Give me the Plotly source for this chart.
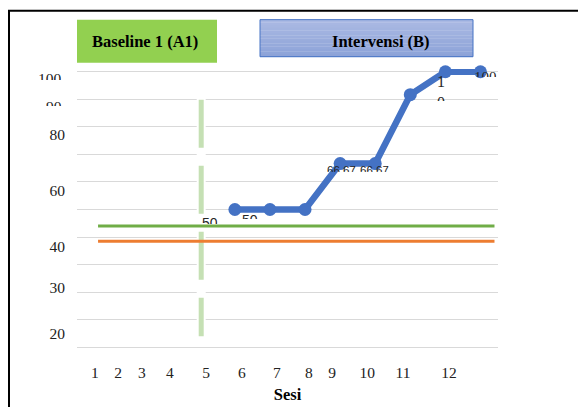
import plotly.graph_objects as go

# ---- data -------------------------------------------------------------
intervention_sessions = [5, 6, 7, 8, 9, 10, 11, 12]
intervention_scores = [50, 50, 50, 66.67, 66.67, 91.67, 100, 100]
score_labels = ["50", "50", "", "66,67", "66,67", "", "1<br>0<br>0", "100"]

level_green = 44.0
level_orange = 38.5

x_tick_text = ["1", "2", "3", "4", "5", "6", "7", "8", "9", "10", "11", "12"]
y_tick_text = ["80", "60", "40", "30", "20"]
y_top_tick_text = ["100", "90"]

phase_a_label = "Baseline 1 (A1)"
phase_b_label = "Intervensi (B)"
x_title = "Sesi"

# ---- layout geometry ------------------------------------------------
W, H = 578, 407
PL, PR, PT, PB = 77, 498, 69.25, 349.75
x_tick_pos = [1.01, 1.67, 2.35, 3.15, 4.18, 5.2, 6.2, 7.11, 7.77, 8.77, 9.79, 11.1]
y_tick_pos = [77.1, 56.7, 36.7, 21.5, 5.1]
y_top_tick_px = [69.5, 97.5]
y_top_tick_clip = [10, 8]
phase_line_x = 4.04
level_span = [1.1, 12.4]
Y_RANGE = [-1, 101]


def px_x(px):
    return (px - PL) / (PR - PL)


def px_y(py):
    return (PB - py) / (PB - PT)


SERIF = "Liberation Serif"
TICK_FONT = dict(family=SERIF, size=15.5, color="#222222")
fig = go.Figure()

# baseline level lines
fig.add_trace(go.Scatter(x=level_span, y=[level_green] * 2, mode="lines",
                         line=dict(color="#70ad47", width=3), hoverinfo="skip"))
fig.add_trace(go.Scatter(x=level_span, y=[level_orange] * 2, mode="lines",
                         line=dict(color="#ed7d31", width=3), hoverinfo="skip"))

# intervention series
fig.add_trace(go.Scatter(x=intervention_sessions, y=intervention_scores,
                         mode="lines+markers",
                         line=dict(color="#4472c4", width=6.5),
                         marker=dict(color="#4472c4", size=13),
                         cliponaxis=False))

# invisible carrier for the labelled value axis
fig.add_trace(go.Scatter(x=[None], y=[None], yaxis="y2", mode="markers",
                         hoverinfo="skip", showlegend=False))

shapes = []
# phase change line: white backing then light green dashes
shapes.append(dict(type="line", xref="x", yref="y", x0=phase_line_x, x1=phase_line_x,
                   y0=90.9, y1=4.0, line=dict(color="white", width=9), layer="between"))
shapes.append(dict(type="line", xref="x", yref="y", x0=phase_line_x, x1=phase_line_x,
                   y0=89.8, y1=4.0, line=dict(color="#c5e0b4", width=5, dash="48px,18px"),
                   layer="between"))

# chart frame
shapes.append(dict(type="rect", xref="paper", yref="paper",
                   x0=px_x(9), x1=px_x(W + 20), y0=px_y(H + 20), y1=px_y(11),
                   line=dict(color="black", width=2), fillcolor="rgba(0,0,0,0)",
                   layer="above"))

# phase A box
shapes.append(dict(type="rect", xref="paper", yref="paper",
                   x0=px_x(77), x1=px_x(217), y0=px_y(63), y1=px_y(20),
                   line=dict(width=0), fillcolor="#92d050", layer="above"))

# phase B box with vertical gradient
top_rgb = (170, 185, 227)
bot_rgb = (141, 163, 216)
n_bands = 14
b_top, b_bot = 20, 57
for i in range(n_bands):
    t = i / (n_bands - 1)
    c = tuple(round(top_rgb[k] + (bot_rgb[k] - top_rgb[k]) * t) for k in range(3))
    y_a = b_top + (b_bot - b_top) * i / n_bands
    y_b = b_top + (b_bot - b_top) * (i + 1) / n_bands
    shapes.append(dict(type="rect", xref="paper", yref="paper",
                       x0=px_x(260), x1=px_x(473), y0=px_y(y_b + 0.3), y1=px_y(y_a),
                       line=dict(width=0), fillcolor="rgb(%d,%d,%d)" % c, layer="above"))
shapes.append(dict(type="rect", xref="paper", yref="paper",
                   x0=px_x(260), x1=px_x(473), y0=px_y(57), y1=px_y(20),
                   line=dict(color="#4472c4", width=1), fillcolor="rgba(0,0,0,0)",
                   layer="above"))

annotations = [
    dict(text="<b>%s</b>" % phase_a_label, xref="paper", yref="paper",
         x=px_x(144.5), y=px_y(42), xanchor="center", yanchor="middle", showarrow=False,
         font=dict(family=SERIF, size=16.5, color="black")),
    dict(text="<b>%s</b>" % phase_b_label, xref="paper", yref="paper",
         x=px_x(381), y=px_y(41.5), xanchor="center", yanchor="middle", showarrow=False,
         font=dict(family=SERIF, size=16.5, color="black")),
]

# clipped top tick labels
for txt, py, clip in zip(y_top_tick_text, y_top_tick_px, y_top_tick_clip):
    annotations.append(dict(text=txt, xref="paper", yref="paper", x=px_x(63), y=px_y(py),
                            xanchor="right", yanchor="top", showarrow=False,
                            height=clip, valign="top", borderpad=0,
                            font=TICK_FONT))

# data labels (partly clipped)
label_style = [
    dict(xshift=-25, yshift=-4, height=9, family="Liberation Sans", size=14),
    dict(xshift=-20, yshift=-1, height=7, family="Liberation Sans", size=14),
    None,
    dict(xshift=1, yshift=1, height=8, family="Liberation Sans", size=11.5),
    dict(xshift=-1, yshift=1, height=8, family="Liberation Sans", size=11.5),
    None,
    dict(xshift=-4, yshift=0, height=28, family=SERIF, size=16),
    dict(xshift=5, yshift=4, height=8, family=SERIF, size=15),
]
for xv, yv, txt, st in zip(intervention_sessions, intervention_scores, score_labels, label_style):
    if not txt or st is None:
        continue
    annotations.append(dict(text=txt, x=xv, y=yv, xref="x", yref="y",
                            xshift=st["xshift"], yshift=st["yshift"],
                            yanchor="top", valign="top", showarrow=False,
                            height=st["height"], borderpad=0,
                            font=dict(family=st["family"], size=st["size"], color="#262626")))

fig.update_layout(
    width=W, height=H,
    margin=dict(l=PL, r=W - PR, t=PT, b=H - PB, autoexpand=False),
    paper_bgcolor="white", plot_bgcolor="white",
    showlegend=False,
    shapes=shapes,
    annotations=annotations,
    xaxis=dict(range=[0.5, 12.5], showgrid=False, zeroline=False, showline=False,
               tickmode="array", tickvals=x_tick_pos, ticktext=x_tick_text,
               ticks="", ticklabelstandoff=11, tickfont=TICK_FONT,
               title=dict(text="<b>%s</b>" % x_title, standoff=8,
                          font=dict(family=SERIF, size=16.5, color="black"))),
    # gridlines every 10 units
    yaxis=dict(range=Y_RANGE, showgrid=True, gridcolor="#d9d9d9", gridwidth=1.3,
               zeroline=False, showline=False, tickmode="linear", tick0=0, dtick=10,
               showticklabels=False, ticks=""),
    # labelled value axis
    yaxis2=dict(range=Y_RANGE, overlaying="y", side="left", anchor="x",
                showgrid=False, zeroline=False, showline=False,
                tickmode="array", tickvals=y_tick_pos, ticktext=y_tick_text,
                ticks="", ticklabelstandoff=11, tickfont=TICK_FONT),
)

fig.write_html("out.html")
